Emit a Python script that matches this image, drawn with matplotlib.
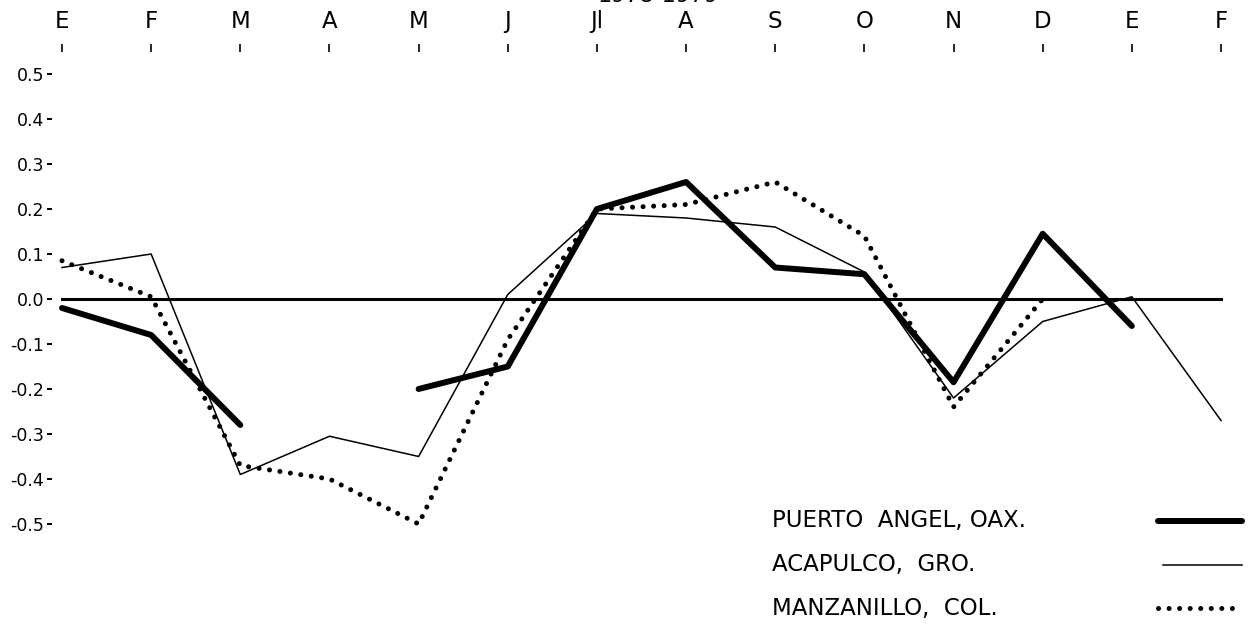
import numpy as np
import matplotlib
matplotlib.use('Agg')
from matplotlib import pyplot as plt
from matplotlib.lines import Line2D

# monthly values, E (ene) 1978 .. F (feb) 1979
months = ['E', 'F', 'M', 'A', 'M', 'J', 'Jl', 'A', 'S', 'O', 'N', 'D', 'E', 'F']
yticks = [0.5, 0.4, 0.3, 0.2, 0.1, 0.0, -0.1, -0.2, -0.3, -0.4, -0.5]
ytick_labels = ['0.5', '0.4', '0.3', '0.2', '0.1', '0.0', '-0.1', '-0.2', '-0.3', '-0.4', '-0.5']

puerto_angel = [-0.02, -0.08, -0.28, np.nan, -0.20, -0.15, 0.20, 0.26, 0.07, 0.055, -0.185, 0.145, -0.06]
acapulco = [0.07, 0.10, -0.39, -0.305, -0.35, 0.01, 0.19, 0.18, 0.16, 0.06, -0.22, -0.05, 0.005, -0.27]
manzanillo = [0.085, 0.005, -0.37, -0.40, -0.50, -0.09, 0.20, 0.21, 0.26, 0.14, -0.24, 0.0]

names = ['PUERTO  ANGEL, OAX.', 'ACAPULCO,  GRO.', 'MANZANILLO,  COL.']
title = '1978-1979'

W, H = 1249, 628
fig = plt.figure(figsize=(W / 100, H / 100), dpi=100)
plt.rcParams['font.family'] = 'DejaVu Sans'

ax = fig.add_axes([52 / W, 0, (W - 52) / W, (H - 52) / H])
ppu = (1221 - 62) / 13.0
ax.set_xlim(-10 / ppu, 13 + 28 / ppu)
ax.set_ylim((299 - 628) / 450, (299 - 52) / 450)

dot_style = dict(linestyle=(0, (0.01, 2.1)), linewidth=3.6, dash_capstyle='round', color='black')

ax.plot([0, 13], [0, 0], color='black', lw=2.2)
ax.plot(range(len(acapulco)), acapulco, color='black', lw=1.1)
ax.plot(range(len(manzanillo)), manzanillo, **dot_style)
ax.plot(range(len(puerto_angel)), puerto_angel, color='black', lw=4.3, solid_capstyle='round')

for s in ax.spines.values():
    s.set_visible(False)

ax.xaxis.tick_top()
ax.set_xticks(range(len(months)))
ax.set_xticklabels(months, fontsize=16.5)
ax.tick_params(axis='x', direction='out', length=5.8, width=1.2, pad=8)

ax.set_yticks(yticks)
ax.set_yticklabels(ytick_labels, fontsize=12.5)
ax.tick_params(axis='y', direction='out', length=3.6, width=1.4, pad=2)

# legend drawn by hand, text on the left and line sample on the right
leg_y = [521, 565, 608]
leg_x0 = [1158, 1163, 1158]
styles = [dict(color='black', lw=4.3, solid_capstyle='round'),
          dict(color='black', lw=1.1),
          dot_style]
for name, yy, x0, st in zip(names, leg_y, leg_x0, styles):
    fig.text(772 / W, 1 - yy / H, name, ha='left', va='center', fontsize=16.5)
    fig.add_artist(Line2D([x0 / W, 1242 / W], [1 - yy / H, 1 - yy / H],
                          transform=fig.transFigure, **st))

fig.text(658 / W, 1 - 6 / H, title, ha='center', va='bottom', fontsize=16)

fig.savefig('out.png', dpi=100)
